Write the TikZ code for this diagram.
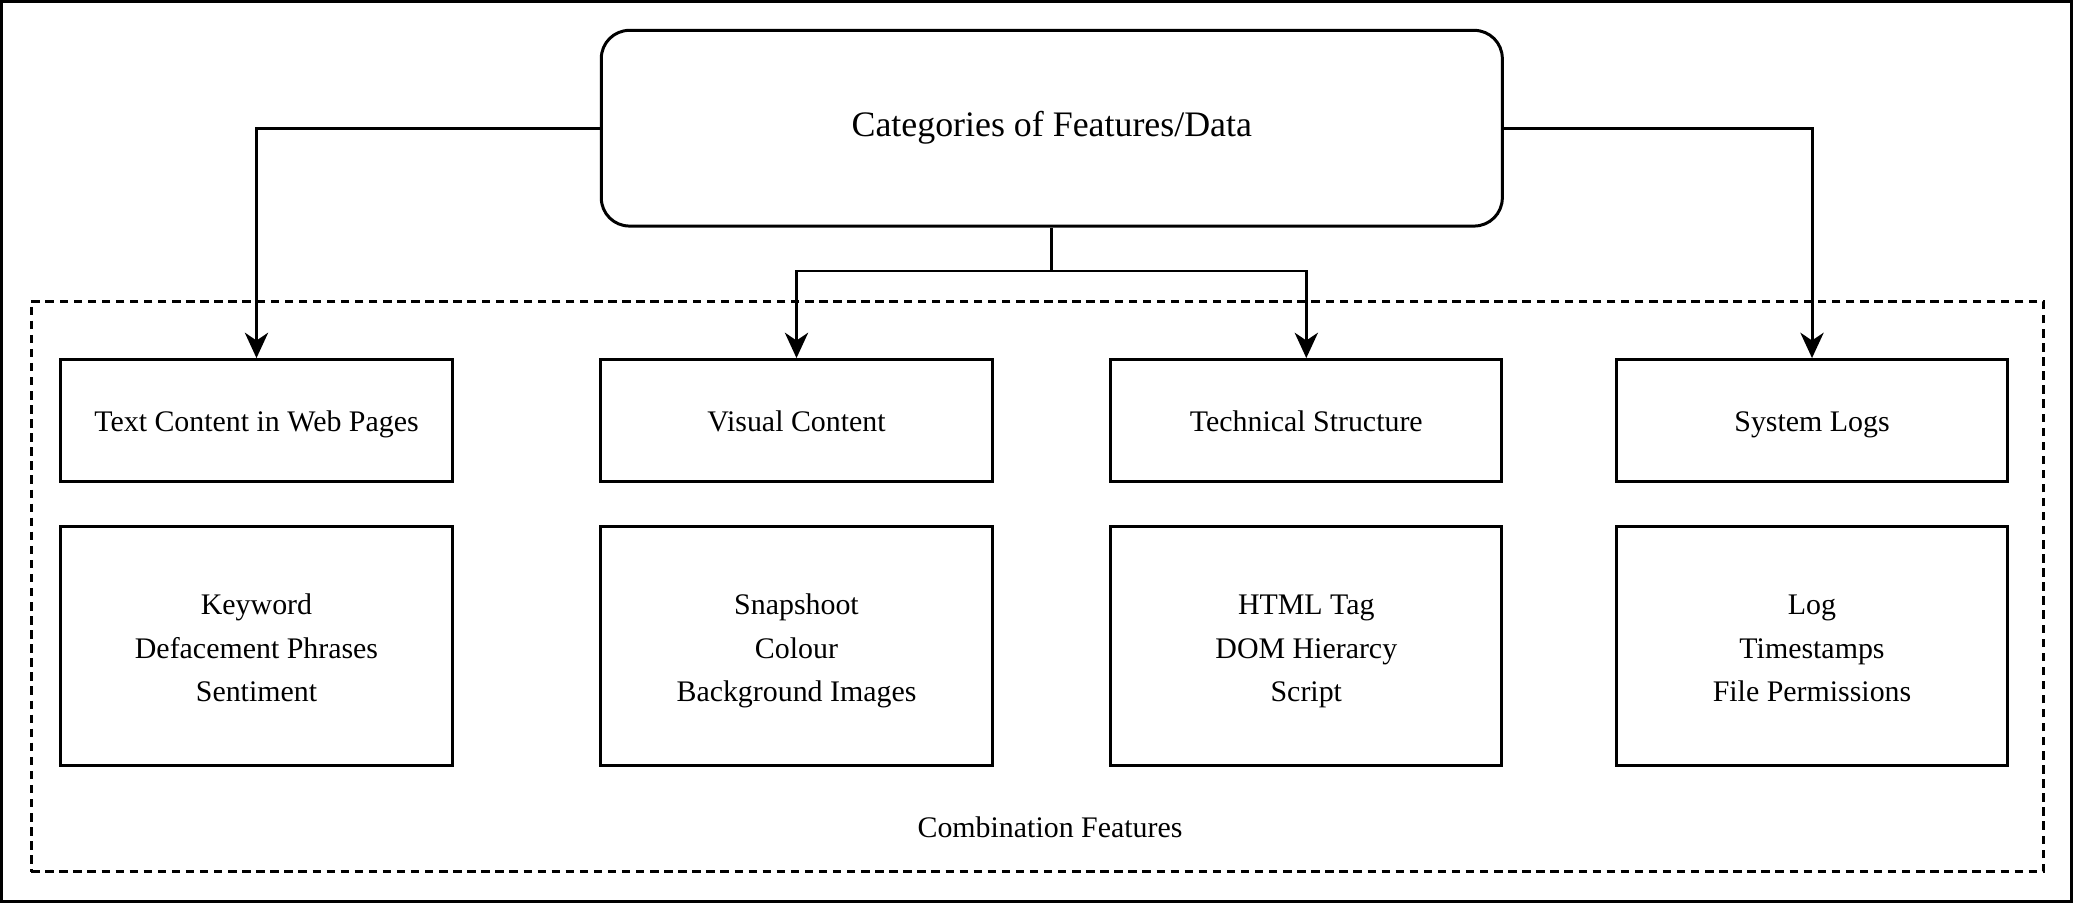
\documentclass[tikz,border=0pt]{standalone}
\usepackage{fontspec}
\setmainfont{Liberation Serif}
\usetikzlibrary{arrows.meta}
\newcommand{\topstrut}{\rule{0pt}{1.06em}}
\newcommand{\botstrut}{\rule[-0.25em]{0pt}{0.25em}}
\begin{document}
\begin{tikzpicture}[x=0.01cm,y=-0.01cm,
  strutted/.style={execute at begin node={\rule{0pt}{1em}},
    execute at end node={\rule[-0.25em]{0pt}{0.25em}}},
  box/.style={draw,line width=0.85pt,minimum width=3.91cm,align=center,inner sep=0pt,
    font=\fontsize{8.5}{12.5}\selectfont},
  headbox/.style={box,minimum height=1.216cm,strutted},
  listbox/.style={box,minimum height=2.393cm},
  topbox/.style={draw,line width=0.85pt,rounded corners=8pt,minimum width=9.005cm,minimum height=1.956cm,
    font=\fontsize{10.2}{12}\selectfont,text height=0.72em,text depth=0.25em},
  groupbox/.style={draw,line width=0.85pt,dash pattern=on 2.4pt off 1.6pt,minimum width=20.109cm,minimum height=5.699cm,inner sep=0pt},
  lbl/.style={font=\fontsize{8.5}{12.3}\selectfont,inner sep=0pt,strutted},
  arr/.style={line width=0.85pt,-{Stealth[length=7.2pt,width=6.6pt,inset=2.2pt]}},
  conn/.style={line width=0.85pt}]
\useasboundingbox (0,0) rectangle (2073,903);
\draw[line width=0.9pt] (1.6,1.6) rectangle (2071.4,901.4);

\node[groupbox] (grp) at (1037.2,586.4) {};
\node[lbl] (comb) at (1050,826.4) {Combination Features};

\node[topbox] (top) at (1051.8,128.2) {Categories of Features/Data};

\node[headbox] (b1) at (256.5,420.4) {Text Content in Web Pages};
\node[headbox] (b2) at (796.5,420.4) {Visual Content};
\node[headbox] (b3) at (1306.3,420.4) {Technical Structure};
\node[headbox] (b4) at (1812,420.4) {System Logs};

\node[listbox] (l1) at (256.5,645.9) {\topstrut Keyword\\Defacement Phrases\\Sentiment\botstrut};
\node[listbox] (l2) at (796.5,645.9) {\topstrut Snapshoot\\Colour\\Background Images\botstrut};
\node[listbox] (l3) at (1306.3,645.9) {\topstrut HTML Tag\\DOM Hierarcy\\Script\botstrut};
\node[listbox] (l4) at (1812,645.9) {\topstrut Log\\Timestamps\\File Permissions\botstrut};

\coordinate (j) at (1051.8,271);
\draw[arr] (top.west) -| (b1.north);
\draw[arr] (top.east) -| (b4.north);
\draw[conn] (top.south) -- (j);
\draw[arr] (j) -| (b2.north);
\draw[arr] (j) -| (b3.north);
\end{tikzpicture}
\end{document}
